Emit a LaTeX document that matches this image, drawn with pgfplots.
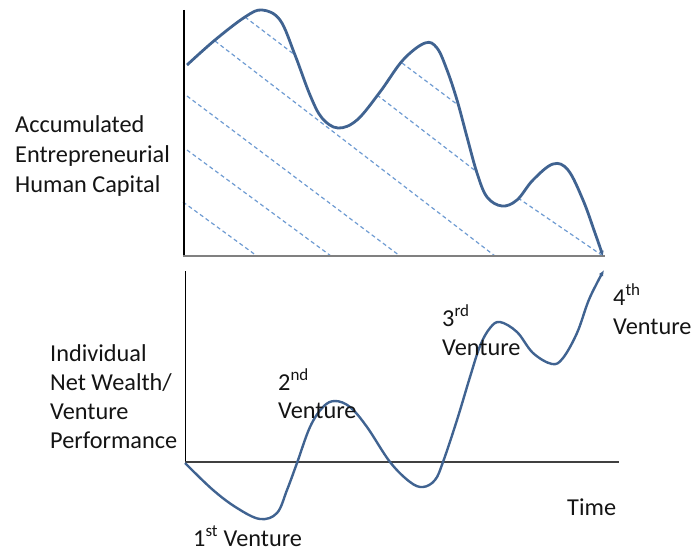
\documentclass[border=0pt]{standalone}
\usepackage{pgfplots}
\pgfplotsset{compat=1.18}
\usepackage{fontspec}
\setmainfont{Carlito}
\usetikzlibrary{arrows.meta}
\definecolor{curve}{RGB}{64,99,145}
\definecolor{hatch}{RGB}{110,155,210}
\definecolor{txt}{RGB}{20,20,20}
\tikzset{lab/.style={anchor=base west, inner sep=0pt, text=txt, font=\fontsize{24.3}{29}\selectfont}}

\begin{document}
\begin{tikzpicture}
\begin{axis}[
    name=ax,
    scale only axis,
    width=694pt, height=551pt,
    xmin=0, xmax=694, ymin=0, ymax=551,
    y dir=reverse,
    hide axis,
    clip=false,
]
% hatch lines under the upper curve
\addplot[hatch, line width=1.2pt, dash pattern=on 4pt off 3pt] coordinates {(245,17) (295,55)};
\addplot[hatch, line width=1.2pt, dash pattern=on 4pt off 3pt] coordinates {(215,41) (495,256)};
\addplot[hatch, line width=1.2pt, dash pattern=on 4pt off 3pt] coordinates {(187,96) (400,256)};
\addplot[hatch, line width=1.2pt, dash pattern=on 4pt off 3pt] coordinates {(187,150) (331,256)};
\addplot[hatch, line width=1.2pt, dash pattern=on 4pt off 3pt] coordinates {(183,202) (257,256)};
\addplot[hatch, line width=1.2pt, dash pattern=on 4pt off 3pt] coordinates {(377,95) (477,172)};
\addplot[hatch, line width=1.2pt, dash pattern=on 4pt off 3pt] coordinates {(518,198) (603,256)};
\addplot[hatch, line width=1.2pt, dash pattern=on 4pt off 3pt] coordinates {(402,63) (458,105)};

% axes of the upper panel
\addplot[black, line width=1.4pt] coordinates {(184,10) (184,256)};
\addplot[gray, line width=2.2pt] coordinates {(183,256) (605,256)};
% axes of the lower panel
\addplot[black, line width=1pt] coordinates {(185,271) (185,462)};
\addplot[black!75, line width=1.5pt] coordinates {(185,462) (619,462)};

% accumulated human capital
\addplot[curve, line width=2.8pt, smooth, tension=0.6, -{Latex[length=5pt,width=5pt]}] coordinates {
    (187,65) (215,40) (245,17) (262,10) (280,20) (295,55) (310,95) (322,118)
    (338,128) (357,120) (380,92) (403,60) (425,43) (437,48)
    (447,70) (457,100) (467,137) (477,173) (487,197) (502,206) (517,200)
    (533,180) (553,164) (568,170) (583,200) (595,233) (603,256)
};

% net wealth / venture performance
\addplot[curve, line width=2.4pt, smooth, tension=0.6, -{Latex[length=6pt,width=5pt]}] coordinates {
    (185,463) (213,490) (237,508) (260,519) (277,513) (287,490) (297,463)
    (310,427) (323,407) (335,401) (350,407) (367,427) (390,462) (410,482)
    (423,487) (435,480) (443,462) (457,420) (470,377) (480,346) (490,328)
    (500,322) (517,332) (533,353) (552,364) (563,358) (577,333) (588,302)
    (597,283) (604,270)
};

\node[lab] at (axis cs:15,132) {Accumulated};
\node[lab] at (axis cs:15,162) {Entrepreneurial};
\node[lab] at (axis cs:15,192) {Human Capital};

\node[lab] at (axis cs:50,361) {Individual};
\node[lab] at (axis cs:50,390) {Net Wealth/};
\node[lab] at (axis cs:50,419) {Venture};
\node[lab] at (axis cs:50,448) {Performance};

\node[lab] at (axis cs:193,546) {1\textsuperscript{st} Venture};
\node[lab] at (axis cs:278,390) {2\textsuperscript{nd}};
\node[lab] at (axis cs:278,418) {Venture};
\node[lab] at (axis cs:442,326) {3\textsuperscript{rd}};
\node[lab] at (axis cs:442,355) {Venture};
\node[lab] at (axis cs:613,305) {4\textsuperscript{th}};
\node[lab] at (axis cs:613,334) {Venture};
\node[lab] at (axis cs:567,515) {Time};
\end{axis}
\pgfresetboundingbox
\path (ax.south west) rectangle (ax.north east);
\end{tikzpicture}
\end{document}
